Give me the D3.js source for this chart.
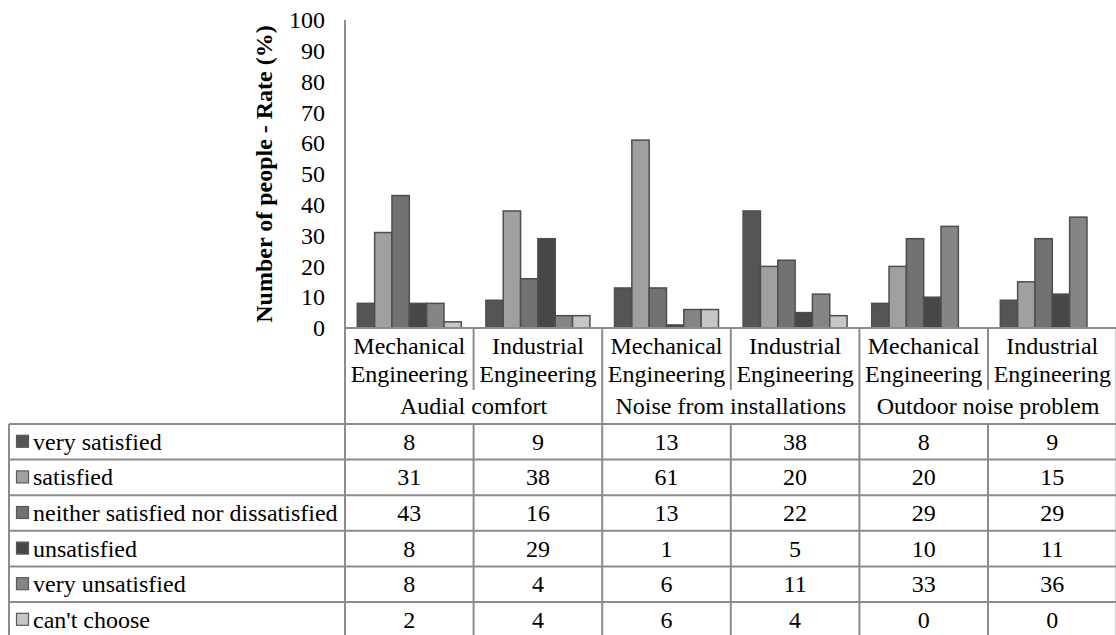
<!DOCTYPE html>
<html>
<head>
<meta charset="utf-8">
<script src="https://cdn.jsdelivr.net/npm/d3@7/dist/d3.min.js"></script>
<style>
  html, body { margin: 0; padding: 0; background: #fff; }
  svg { display: block; }
</style>
</head>
<body>
<svg id="chart" width="1116" height="635" font-family="Liberation Serif"></svg>
<script>
// Survey topics and the two departments asked about each one
const groups = ["Audial comfort", "Noise from installations", "Outdoor noise problem"];
const departments = [["Mechanical", "Engineering"], ["Industrial", "Engineering"]];

// Response categories and their percentages (one entry per group × department column)
const seriesNames = [
  "very satisfied",
  "satisfied",
  "neither satisfied nor dissatisfied",
  "unsatisfied",
  "very unsatisfied",
  "can't choose"
];
const verySatisfied   = [8, 9, 13, 38, 8, 9];
const satisfied       = [31, 38, 61, 20, 20, 15];
const neither         = [43, 16, 13, 22, 29, 29];
const unsatisfied     = [8, 29, 1, 5, 10, 11];
const veryUnsatisfied = [8, 4, 6, 11, 33, 36];
const cantChoose      = [2, 4, 6, 4, 0, 0];
const yTicks = [0, 10, 20, 30, 40, 50, 60, 70, 80, 90, 100];

const seriesValues = [verySatisfied, satisfied, neither, unsatisfied, veryUnsatisfied, cantChoose];
const fills = ["#555555", "#a0a0a0", "#727272", "#474747", "#858585", "#c6c6c6"];

// Columns: each group split into its departments
const columns = [];
groups.forEach((g, gi) => departments.forEach((d, di) => columns.push({ id: gi * 2 + di, group: g, gi, di, lines: d })));

const svg = d3.select("#chart");
const gridColor = "#8c8c8c";
const fontSize = 24;
const serif = "Liberation Serif";

const plotLeft = 345, plotRight = 1116.6;
const plotTop = 20, base = 328;
const headerBottom = 424;
const rowH = 35.6;
const tableLeft = 9;

const x0 = d3.scaleBand().domain(columns.map(c => c.id)).range([plotLeft, plotRight]).paddingInner(0).paddingOuter(0);
const x1 = d3.scaleBand().domain(d3.range(seriesNames.length)).range([0, x0.bandwidth()]).paddingInner(0).paddingOuter(0.71);
const y = d3.scaleLinear().domain([0, 100]).range([base, plotTop]);

// Y axis labels
const yAxis = d3.axisLeft(y).tickValues(yTicks).tickSize(0).tickPadding(20).tickFormat(d3.format("d"));
const yg = svg.append("g").attr("transform", `translate(${plotLeft},0)`).call(yAxis);
yg.attr("font-family", serif).attr("font-size", fontSize);
yg.select(".domain").remove();
yg.selectAll("text").attr("fill", "#000");

// Y axis title
svg.append("text")
  .attr("transform", `translate(272,${(plotTop + base) / 2}) rotate(-90)`)
  .attr("text-anchor", "middle")
  .attr("font-family", serif)
  .attr("font-size", fontSize)
  .attr("font-weight", "bold")
  .text("Number of people - Rate (%)");

// Bars
const barG = svg.append("g");
columns.forEach(c => {
  seriesValues.forEach((vals, si) => {
    const v = vals[c.id];
    if (v <= 0) return;
    barG.append("rect")
      .attr("x", x0(c.id) + x1(si))
      .attr("y", y(v))
      .attr("width", x1.bandwidth())
      .attr("height", y(0) - y(v))
      .attr("fill", fills[si])
      .attr("stroke", "#4e4e4e")
      .attr("stroke-width", 1.5);
  });
});

// Grid / table lines
const lines = svg.append("g").attr("stroke", gridColor).attr("stroke-width", 2).attr("fill", "none");
const nRows = seriesNames.length;
const tableBottom = headerBottom + rowH * nRows;

// value axis line (continues as the table's column border)
lines.append("line").attr("x1", plotLeft).attr("x2", plotLeft).attr("y1", plotTop).attr("y2", tableBottom);
// category axis baseline
lines.append("line").attr("x1", plotLeft).attr("x2", plotRight).attr("y1", base).attr("y2", base);
// dividers between departments and between groups in the header
columns.forEach(c => {
  if (c.id === 0) return;
  const xx = x0(c.id);
  const isGroupEdge = c.di === 0;
  lines.append("line").attr("x1", xx).attr("x2", xx).attr("y1", base)
    .attr("y2", isGroupEdge ? tableBottom : 390);
  if (!isGroupEdge) {
    lines.append("line").attr("x1", xx).attr("x2", xx).attr("y1", headerBottom).attr("y2", tableBottom);
  }
});
lines.append("line").attr("x1", plotRight).attr("x2", plotRight).attr("y1", base).attr("y2", tableBottom);
// table rows
for (let r = 0; r <= nRows; r++) {
  const yy = headerBottom + r * rowH;
  lines.append("line").attr("x1", tableLeft).attr("x2", plotRight).attr("y1", yy).attr("y2", yy);
}
lines.append("line").attr("x1", tableLeft).attr("x2", tableLeft).attr("y1", headerBottom).attr("y2", tableBottom);

// Header labels
const hdr = svg.append("g").attr("font-family", serif).attr("font-size", fontSize).attr("text-anchor", "middle").attr("fill", "#000");
columns.forEach(c => {
  const cx = x0(c.id) + x0.bandwidth() / 2;
  c.lines.forEach((t, li) => {
    hdr.append("text").attr("x", cx).attr("y", 353.5 + li * 28.8).text(t);
  });
});
groups.forEach((g, gi) => {
  const cx = x0(gi * 2) + x0.bandwidth();
  hdr.append("text").attr("x", cx).attr("y", 414).text(g);
});

// Table rows: legend keys, names and values
const tbl = svg.append("g").attr("font-family", serif).attr("font-size", fontSize).attr("fill", "#000");
seriesNames.forEach((name, si) => {
  const cy = headerBottom + si * rowH + rowH / 2;
  tbl.append("rect").attr("x", 16.5).attr("y", cy - 6.5).attr("width", 12).attr("height", 12)
    .attr("fill", fills[si]).attr("stroke", "#5a5a5a").attr("stroke-width", 1.2);
  tbl.append("text").attr("x", 33).attr("y", cy + 8).text(name);
  columns.forEach(c => {
    tbl.append("text")
      .attr("x", x0(c.id) + x0.bandwidth() / 2)
      .attr("y", cy + 8)
      .attr("text-anchor", "middle")
      .text(seriesValues[si][c.id]);
  });
});
</script>
</body>
</html>
